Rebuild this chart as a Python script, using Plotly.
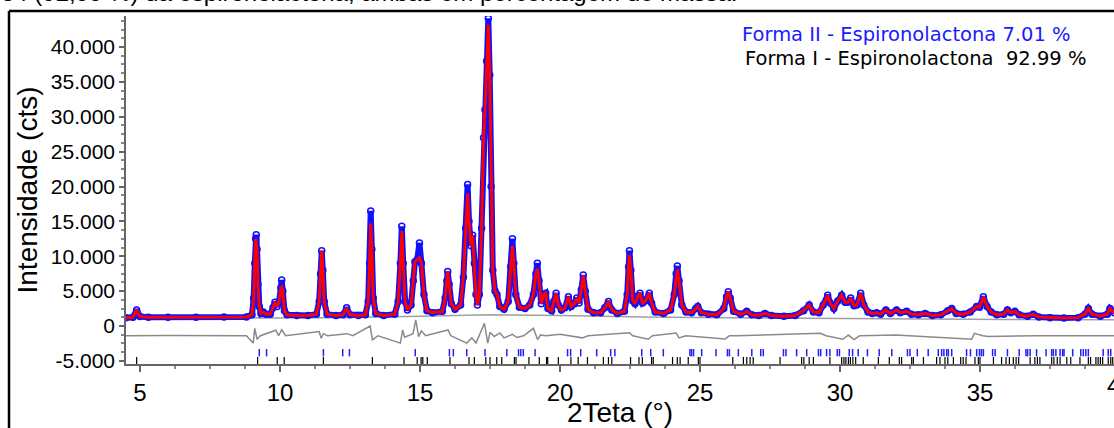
import plotly.graph_objects as go

# ---------------- data ----------------
# observed pattern (2theta in degrees, counts)
tt_obs = [4.50, 4.75, 4.88, 5.00, 5.30, 6.00, 7.00, 8.00, 8.80, 9.00, 9.06, 9.10, 9.13, 9.15, 9.18, 9.21,
          9.26, 9.32, 9.40, 9.50, 9.65, 9.75, 9.82, 9.90, 9.97, 10.03, 10.06, 10.10, 10.16, 10.25, 10.60,
          11.00, 11.30, 11.40, 11.45, 11.49, 11.53, 11.58, 11.68, 12.00, 12.25, 12.38, 12.50, 12.80, 13.05,
          13.15, 13.20, 13.24, 13.28, 13.33, 13.42, 13.70, 14.10, 14.22, 14.30, 14.35, 14.40, 14.47, 14.55,
          14.68, 14.76, 14.82, 14.90, 14.98, 15.05, 15.14, 15.25, 15.45, 15.80, 15.90, 15.96, 15.99, 16.04,
          16.12, 16.25, 16.45, 16.55, 16.63, 16.70, 16.75, 16.82, 16.88, 16.94, 17.00, 17.05, 17.12, 17.20,
          17.27, 17.32, 17.38, 17.44, 17.49, 17.54, 17.60, 17.68, 17.75, 17.85, 18.00, 18.15, 18.24, 18.30,
          18.35, 18.42, 18.55, 18.75, 18.92, 19.05, 19.14, 19.19, 19.25, 19.33, 19.42, 19.49, 19.57, 19.70,
          19.78, 19.86, 19.94, 20.05, 20.18, 20.30, 20.40, 20.52, 20.60, 20.68, 20.76, 20.83, 20.90, 21.00,
          21.20, 21.45, 21.60, 21.73, 21.85, 22.05, 22.30, 22.40, 22.45, 22.48, 22.53, 22.60, 22.68, 22.78,
          22.86, 22.95, 23.05, 23.19, 23.27, 23.40, 23.70, 23.95, 24.08, 24.15, 24.19, 24.25, 24.35, 24.50,
          24.70, 24.85, 24.92, 25.05, 25.30, 25.60, 25.85, 25.95, 26.01, 26.08, 26.20, 26.45, 26.67, 26.85,
          27.10, 27.32, 27.55, 28.00, 28.40, 28.70, 28.90, 29.05, 29.25, 29.40, 29.56, 29.65, 29.78, 29.92,
          30.06, 30.18, 30.28, 30.38, 30.50, 30.60, 30.74, 30.85, 31.00, 31.15, 31.31, 31.45, 31.64, 31.80,
          32.02, 32.15, 32.38, 32.55, 32.80, 33.04, 33.30, 33.60, 33.85, 33.99, 34.15, 34.40, 34.65, 34.88,
          34.98, 35.12, 35.25, 35.40, 35.60, 35.85, 35.98, 36.10, 36.25, 36.40, 36.70, 36.90, 37.10, 37.50,
          38.00, 38.50, 38.75, 38.87, 39.00, 39.30, 39.55, 39.64, 39.80]
i_obs = [1200, 1250, 2300, 1350, 1250, 1250, 1250, 1300, 1300, 1600, 4000, 9000, 12500, 13100, 11000, 6000,
         2800, 1800, 2000, 1700, 1700, 2600, 3400, 2800, 3500, 5500, 6600, 5000, 2200, 1600, 1500,
         1500, 1700, 3500, 7500, 10800, 8000, 3500, 1700, 1500, 1600, 2600, 1600, 1500, 1600,
         3500, 9000, 16500, 11000, 4000, 1800, 1500, 1700, 3500, 9000, 14300, 9000, 3500, 2300,
         3000, 6500, 9200, 9500, 11900, 9000, 4500, 2200, 1900, 2100, 4000, 6500, 7800, 6000,
         3200, 2400, 3000, 7000, 14000, 20300, 15000, 11500, 13000, 9000, 4500, 3000, 4500, 14000,
         27000, 31000, 38000, 44100, 36000, 20000, 8000, 5000, 4500, 2800, 2400, 3500, 8500, 12500,
         9000, 4500, 2700, 2500, 3000, 4500, 7500, 9000, 6500, 3200, 4500, 4700, 2500, 2200,
         3500, 4700, 3000, 2300, 2600, 4200, 2800, 3200, 4000, 3300, 5200, 7300, 5000, 2400,
         1900, 1900, 2600, 3500, 2300, 1800, 2100, 4500, 8500, 10800, 8000, 3600, 3200, 4300,
         4700, 3300, 3600, 4700, 3300, 2000, 1800, 2300, 4500, 7500, 8600, 6500, 3000, 2000,
         1900, 2500, 2800, 1900, 1700, 1600, 2500, 4200, 4900, 4000, 2100, 1700, 2100, 1600,
         1500, 1800, 1500, 1400, 1500, 2200, 3000, 2000, 1900, 3000, 4400, 3300, 2500, 3600,
         4400, 3400, 3400, 4000, 2900, 3000, 4700, 3000, 2000, 1800, 1900, 1700, 2300, 1800,
         2300, 1900, 2100, 1700, 1600, 1800, 1500, 1600, 2200, 2500, 1800, 1700, 2000, 2800,
         2700, 4200, 2800, 2000, 1600, 1700, 2300, 1900, 2100, 1600, 1400, 1700, 1300, 1200,
         1150, 1200, 1700, 2500, 1700, 1400, 1700, 2500, 1900]

# calculated profile: same as observed except at these peak tops
calc_tt = [9.15, 10.06, 13.24, 14.35, 14.98, 16.70, 17.44, 18.30, 19.19, 22.48, 24.19]
calc_val = [11900, 5600, 14700, 13600, 9800, 19000, 43200, 11500, 8200, 10200, 8100]

# refined background
tt_bkg = [4.5, 8.0, 12.0, 15.0, 17.5, 20.0, 23.0, 27.0, 32.0, 36.0, 40.0]
i_bkg = [1100, 1100, 1200, 1400, 1600, 1500, 1300, 1150, 1000, 930, 880]

# difference curve (offset), observed - calculated
tt_diff = [4.5, 6.0, 8.8, 9.04, 9.10, 9.18, 9.30, 9.85, 9.95, 10.06, 10.2, 11.40, 11.47, 11.55, 11.7,
           12.4, 12.6, 13.10, 13.22, 13.30, 13.5, 14.30, 14.38, 14.45, 14.6, 14.75, 14.85, 14.95, 15.05,
           15.2, 16.0, 16.1, 16.67, 16.85, 17.00, 17.30, 17.42, 17.50, 17.65, 17.86, 18.0, 18.3, 18.46,
           18.7, 19.05, 19.20, 19.30, 19.5, 20.0, 20.8, 21.0, 22.48, 22.6, 23.15, 23.3, 24.15, 24.25,
           24.5, 25.9, 26.05, 26.3, 29.3, 29.5, 30.1, 30.3, 30.5, 30.7, 32.0, 34.7, 34.8, 35.1, 35.3,
           37.0, 40.0]
i_diff = [-1400, -1350, -1400, -2450, -330, -1900, -1400, -600, -1400, -550, -1400, -800, -1750, -1100, -1400,
          -1100, -1400, -300, 0, -2000, -1400, -2450, -570, -1600, -1400, -1100, 860, -1530, -700,
          -1400, -570, -1400, -2450, -1700, -2450, 380, -2450, -900, -1500, -1000, -1700, -1200, -1650,
          -1400, -330, -1950, -1300, -1400, -1200, -1700, -1400, -960, -1400, -1900, -1400, -1000, -1700,
          -1400, -1850, -1400, -1400, -1050, -1400, -1900, -1300, -1950, -1400, -1300, -1900, -1050, -1400, -1500,
          -1400, -1400]

# reflection positions of each phase
forma2_ticks = [9.26, 9.52, 11.55, 12.24, 12.48, 14.83, 16.05, 16.19, 16.67, 17.32, 18.10, 18.52, 18.60,
                18.69, 19.11, 20.27, 20.38, 20.74, 21.31, 21.81, 21.96, 22.92, 23.24, 23.69, 24.64, 24.70,
                24.77, 25.06, 25.57, 25.98, 26.05, 26.37, 26.85, 27.17, 27.26, 27.98, 28.07, 28.45, 28.81,
                29.23, 29.31, 29.52, 29.64, 29.90, 29.98, 30.33, 30.45, 30.65, 30.98, 31.40, 31.85, 32.41,
                32.50, 32.76, 33.15, 33.51, 33.63, 33.71, 33.81, 33.87, 33.99, 34.52, 34.66, 34.88, 34.98,
                35.05, 35.12, 35.45, 35.54, 35.98, 36.40, 36.64, 36.70, 36.79, 37.02, 37.36, 37.56, 37.62,
                37.71, 37.86, 37.95, 38.00, 38.31, 38.60, 38.69, 38.78, 38.87, 39.40, 39.58, 39.67]
forma1_ticks = [4.88, 9.20, 9.90, 10.15, 11.55, 13.30, 14.43, 14.90, 15.04, 15.10, 15.26, 16.07, 16.75, 16.94,
                17.35, 17.50, 17.74, 17.92, 18.37, 18.43, 18.89, 19.26, 19.52, 19.56, 19.94, 20.39, 20.65,
                20.98, 21.55, 21.73, 21.85, 22.52, 22.82, 22.94, 23.27, 23.33, 24.02, 24.19, 24.29, 24.58,
                24.94, 25.00, 26.17, 26.55, 26.67, 26.79, 26.90, 27.86, 28.63, 28.71, 28.90, 29.05, 29.64,
                30.06, 30.14, 30.21, 30.30, 30.37, 30.46, 30.56, 30.83, 31.37, 31.76, 32.12, 32.20, 32.56,
                32.62, 32.98, 33.45, 33.57, 33.75, 33.85, 34.05, 34.31, 34.40, 34.50, 34.82, 34.94, 35.00,
                35.48, 35.77, 35.93, 36.05, 36.19, 36.29, 36.38, 36.79, 36.96, 37.05, 37.14, 37.56, 37.64,
                37.76, 37.86, 38.10, 38.24, 38.57, 38.87, 38.95, 39.14, 39.22, 39.30, 39.38, 39.58, 39.67,
                39.74]

y_tickvals = [-5000, 0, 5000, 10000, 15000, 20000, 25000, 30000, 35000, 40000]
y_ticktext = ["-5.000", "0", "5.000", "10.000", "15.000", "20.000", "25.000", "30.000", "35.000", "40.000"]
x_tickvals = [5, 10, 15, 20, 25, 30, 35]
x_ticktext = ["5", "10", "15", "20", "25", "30", "35"]

phase_labels = ["Forma II - Espironolactona 7.01 %", "Forma I - Espironolactona\u00a0\u00a092.99 %"]
caption = "34 (92,99 %) da espironolactona, ambas em percentagem de massa."

# ---------------- layout geometry ----------------
W, H = 1114, 428
ML, MT, MB = 126, 16, 64
PW, PH = W - ML, H - MT - MB
X0 = 4.5
X1 = X0 + PW / 28.0
Y0, Y1 = -5448, 44444
FONT = "Liberation Sans, Arial, sans-serif"
LEGEND_FONT = "DejaVu Sans, Liberation Sans, sans-serif"


def px_x(p):
    return (p - ML) / PW


def px_y(p):
    return (MT + PH - p) / PH


i_calc = list(i_obs)
for t, v in zip(calc_tt, calc_val):
    i_calc[tt_obs.index(t)] = v


def tick_segments(pos, top, bottom):
    xs, ys = [], []
    for p in pos:
        xs += [p, p, None]
        ys += [top, bottom, None]
    return xs, ys


fig = go.Figure()

fig.add_trace(go.Scatter(x=tt_bkg, y=i_bkg, mode="lines",
                         line=dict(color="#a0a0a0", width=1.5), hoverinfo="skip"))
fig.add_trace(go.Scatter(x=tt_diff, y=i_diff, mode="lines",
                         line=dict(color="#8a8a8a", width=1.5), hoverinfo="skip"))
fig.add_trace(go.Scatter(x=tt_obs, y=i_obs, mode="lines+markers",
                         line=dict(color="#1010ff", width=6),
                         marker=dict(symbol="circle-open", size=6, color="#1010ff",
                                     line=dict(width=1.5, color="#1010ff")),
                         hoverinfo="skip"))
fig.add_trace(go.Scatter(x=tt_obs, y=i_calc, mode="lines",
                         line=dict(color="#ff0000", width=3), hoverinfo="skip"))

bx, by = tick_segments(forma2_ticks, -3300, -4350)
fig.add_trace(go.Scatter(x=bx, y=by, mode="lines", line=dict(color="#2020ff", width=1.5),
                         hoverinfo="skip"))
kx, ky = tick_segments(forma1_ticks, -4450, Y0)
fig.add_trace(go.Scatter(x=kx, y=ky, mode="lines", line=dict(color="#000000", width=1.2),
                         hoverinfo="skip"))

fig.update_layout(
    width=W, height=H,
    margin=dict(l=ML, r=0, t=MT, b=MB, pad=0),
    paper_bgcolor="white", plot_bgcolor="white",
    showlegend=False,
    font=dict(family=FONT, color="black"),
    xaxis=dict(range=[X0, X1], showgrid=False, zeroline=False,
               showline=True, linecolor="#666666", linewidth=1.5,
               ticks="outside", ticklen=6, tickcolor="#666666", tickwidth=1.5,
               tickvals=x_tickvals, ticktext=x_ticktext,
               tickfont=dict(size=24, family=FONT),
               minor=dict(ticks="outside", ticklen=3, dtick=1.25, tick0=5,
                          tickcolor="#888888", showgrid=False),
               title=dict(text="2Teta (°)", font=dict(size=28, family=FONT), standoff=2)),
    yaxis=dict(range=[Y0, Y1], showgrid=False, zeroline=False,
               showline=True, linecolor="#666666", linewidth=1.5,
               ticks="outside", ticklen=5, tickcolor="#666666", tickwidth=1.5,
               tickvals=y_tickvals, ticktext=y_ticktext,
               tickfont=dict(size=21, family=FONT),
               minor=dict(ticks="outside", ticklen=3, dtick=1250, tick0=0,
                          tickcolor="#888888", showgrid=False),
               title=dict(text="Intensidade (cts)", font=dict(size=28, family=FONT), standoff=5)),
)

# "40" tick label at the clipped right edge
fig.add_annotation(xref="paper", yref="paper", x=(40 - X0) / (X1 - X0), y=0, yshift=-6,
                   text="40", showarrow=False, xanchor="center", yanchor="top",
                   font=dict(size=24, family=FONT, color="black"))

# phase fractions
fig.add_annotation(xref="paper", yref="paper", x=px_x(740), y=px_y(34), text=phase_labels[0],
                   showarrow=False, xanchor="left", yanchor="middle",
                   font=dict(size=19.5, family=LEGEND_FONT, color="#1a1aff"))
fig.add_annotation(xref="paper", yref="paper", x=px_x(743), y=px_y(58), text=phase_labels[1],
                   showarrow=False, xanchor="left", yanchor="middle",
                   font=dict(size=19.5, family=LEGEND_FONT, color="black"))

# caption line above the frame
fig.add_annotation(xref="paper", yref="paper", x=px_x(-1), y=px_y(8), text=caption,
                   showarrow=False, xanchor="left", yanchor="bottom",
                   font=dict(size=24, family=FONT, color="black"))

# frame around the figure
fig.add_shape(type="line", xref="paper", yref="paper", x0=px_x(9), x1=px_x(W + 5),
              y0=px_y(11), y1=px_y(11), line=dict(color="black", width=2.5))
fig.add_shape(type="line", xref="paper", yref="paper", x0=px_x(9), x1=px_x(9),
              y0=px_y(11), y1=px_y(H + 5), line=dict(color="black", width=2.5))

fig.write_html("out.html")
